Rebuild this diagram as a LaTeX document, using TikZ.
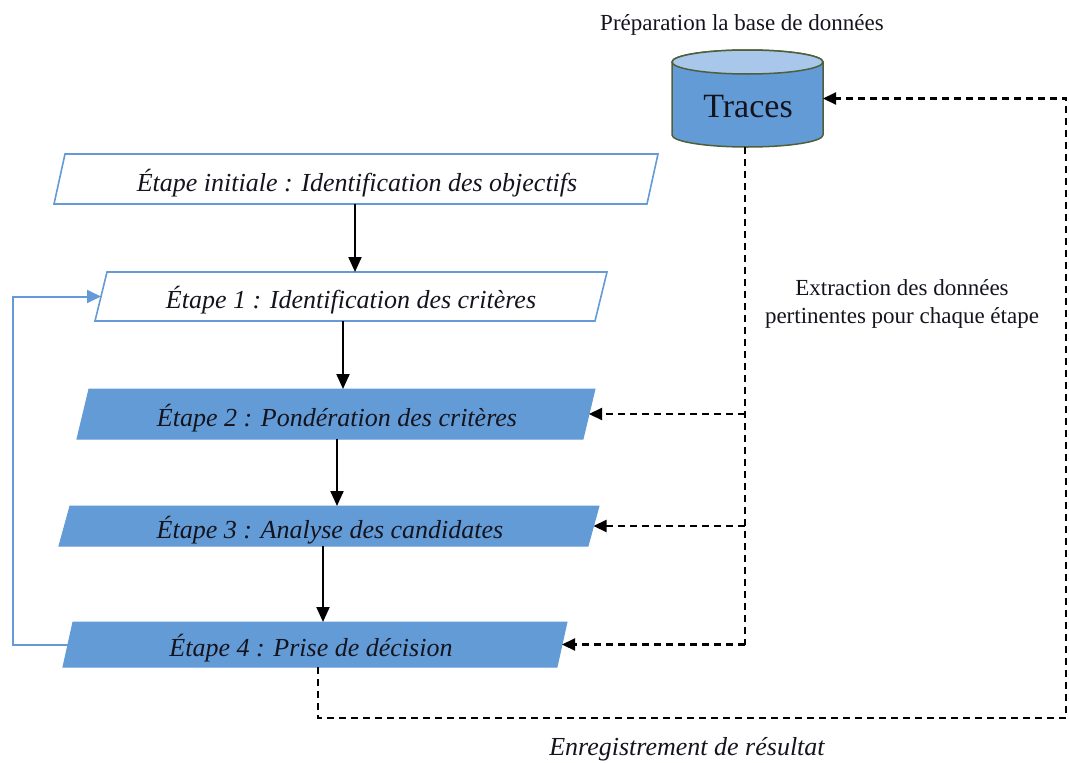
\documentclass[tikz,border=0pt]{standalone}
\usepackage{fontspec}
\setmainfont{Liberation Serif}
\usetikzlibrary{arrows.meta,calc}
\definecolor{boxblue}{RGB}{99,155,214}
\definecolor{edgeblue}{RGB}{100,155,215}
\definecolor{toplight}{RGB}{168,199,235}
\definecolor{dbedge}{RGB}{78,96,58}
\definecolor{txt}{RGB}{20,20,30}
\newcommand{\paraframe}[3]{\path[#3] ([xshift=#2pt]#1.north west) -- (#1.north east) -- ([xshift=-#2pt]#1.south east) -- (#1.south west) -- cycle;}
\begin{document}
\begin{tikzpicture}[x=1pt,y=-1pt,
  frame/.style={draw=none,inner sep=0pt,outer sep=0pt,rectangle},
  steptext/.style={font=\fontsize{26}{30}\selectfont\itshape,text=txt,inner sep=0pt},
  solidarrow/.style={draw=black,line width=2.1pt,-{Triangle[length=15pt,width=13pt]}},
  dasharrow/.style={draw=black,line width=2.2pt,dash pattern=on 7pt off 5pt,-{Triangle[length=13pt,width=12pt]}},
  dashline/.style={draw=black,line width=2.2pt,dash pattern=on 7pt off 5pt},
  bluearrow/.style={draw=edgeblue,line width=2pt,-{Triangle[length=14pt,width=13pt,fill=edgeblue]}},
  lbl/.style={font=\fontsize{23}{28}\selectfont,text=txt,align=center,inner sep=0pt},
  whitebox/.style={fill=white,draw=edgeblue,line width=1.6pt},
  bluebox/.style={fill=boxblue,draw=boxblue,line width=1pt}
]
\useasboundingbox (0,0) rectangle (1069,763);

% frames of the steps
\node[frame,minimum width=604pt,minimum height=50pt] (s0) at (356,179) {};
\node[frame,minimum width=512pt,minimum height=49pt] (s1) at (351,296.5) {};
\node[frame,minimum width=518pt,minimum height=50pt] (s2) at (336,414) {};
\node[frame,minimum width=540pt,minimum height=40pt] (s3) at (329,526) {};
\node[frame,minimum width=504pt,minimum height=45pt] (s4) at (315,644.5) {};

\paraframe{s0}{11}{whitebox}
\paraframe{s1}{12}{whitebox}
\paraframe{s2}{12}{bluebox}
\paraframe{s3}{11}{bluebox}
\paraframe{s4}{10}{bluebox}

\node[steptext] (t0) at (357,183) {Étape initiale : Identification des objectifs};
\node[steptext] (t1) at (351,300) {Étape 1 : Identification des critères};
\node[steptext] (t2) at (337,418) {Étape 2 : Pondération des critères};
\node[steptext] (t3) at (330,530) {Étape 3 : Analyse des candidates};
\node[steptext] (t4) at (311,648) {Étape 4 : Prise de décision};

% database cylinder
\node[frame,minimum width=151pt,minimum height=97pt] (db) at (747.5,98.5) {};
\path[fill=boxblue,draw=dbedge,line width=1.5pt]
  (db.north west) ++(0pt,-12pt) -- ([yshift=12pt]db.south west)
  arc[start angle=180,end angle=360,x radius=75.5pt,y radius=12pt]
  -- ([yshift=-12pt]db.north east)
  arc[start angle=0,end angle=180,x radius=75.5pt,y radius=12pt] -- cycle;
\draw[fill=toplight,draw=dbedge,line width=1.5pt] ([yshift=-12pt]db.north) ellipse[x radius=75.5pt,y radius=12pt];
\node[font=\fontsize{34}{40}\selectfont,text=txt,inner sep=0pt] (tr) at (748,107) {Traces};

% labels
\node[lbl] (prep) at (742,25) {Préparation la base de données};
\node[lbl] (extr) at (902,304) {Extraction des données\\pertinentes pour chaque étape};
\node[steptext] (enr) at (687,749) {Enregistrement de résultat};

% solid arrows
\coordinate (a0) at (355,0);
\coordinate (a1) at (343,0);
\coordinate (a2) at (337,0);
\coordinate (a3) at (323,0);
\draw[solidarrow] (s0.south -| a0) -- (s1.north -| a0);
\draw[solidarrow] (s1.south -| a1) -- (s2.north -| a1);
\draw[solidarrow] (s2.south -| a2) -- (s3.north -| a2);
\draw[solidarrow] (s3.south -| a3) -- (s4.north -| a3);

% blue feedback
\coordinate (lb) at (13,470);
\draw[bluearrow] ([xshift=5pt]s4.west) -| (lb) |- ([xshift=6pt]s1.west);

% dashed extraction lines
\coordinate (j4) at (745,644.5);
\coordinate (vx) at (745,0);
\draw[dashline] (db.south -| vx) -- (j4);
\draw[dasharrow] (s2.east -| vx) -- ([xshift=-6pt]s2.east);
\draw[dasharrow] (s3.east -| vx) -- ([xshift=-5.5pt]s3.east);
\draw[dasharrow] (j4) -- ([xshift=-5pt]s4.east);

% result loop
\coordinate (x4) at (318,0);
\coordinate (lo) at (1066,718);
\draw[dasharrow] (s4.south -| x4) |- (lo) |- (db.east);
\end{tikzpicture}
\end{document}
